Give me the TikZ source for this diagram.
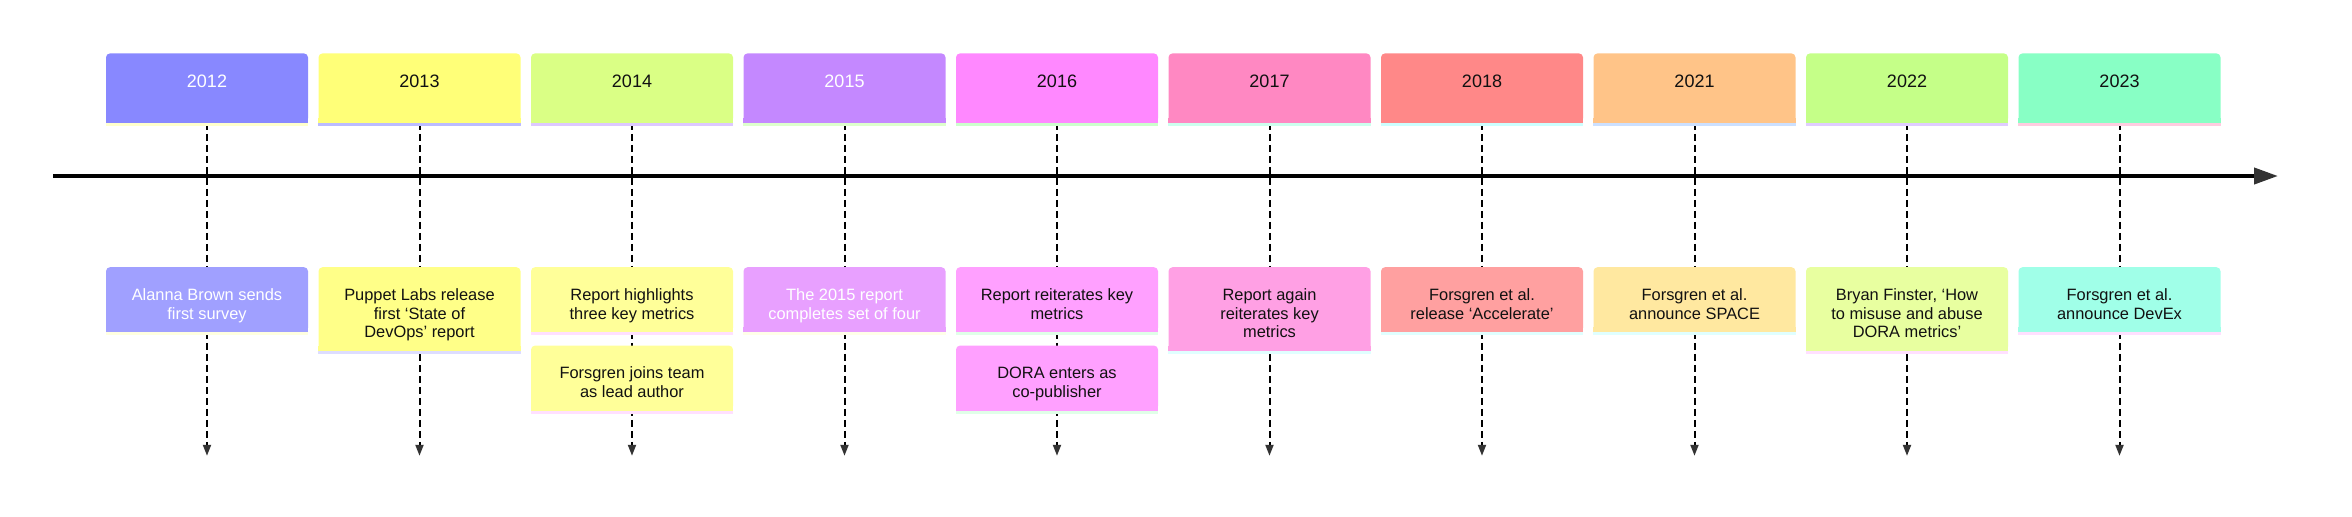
\documentclass[tikz,border=0pt]{standalone}
\usepackage{fontspec}
\setmainfont{Liberation Sans}
\usetikzlibrary{positioning,arrows.meta}

\definecolor{ink}{HTML}{111111}
\definecolor{tipgray}{HTML}{333333}
% year colours, event colours, strip colours
\definecolor{c12}{HTML}{8888FF}\definecolor{e12}{HTML}{A0A0FF}\definecolor{s12}{HTML}{FFFFCC}\definecolor{t12}{HTML}{FFFFE0}
\definecolor{c13}{HTML}{FFFF78}\definecolor{e13}{HTML}{FFFF88}\definecolor{s13}{HTML}{BBBBFF}\definecolor{t13}{HTML}{DDDDFF}
\definecolor{c14}{HTML}{DAFF85}\definecolor{e14}{HTML}{FFFF99}\definecolor{s14}{HTML}{DDC8FF}\definecolor{t14}{HTML}{FFE0FF}
\definecolor{c15}{HTML}{C488FF}\definecolor{e15}{HTML}{E8A0FF}\definecolor{s15}{HTML}{DDFFCC}\definecolor{t15}{HTML}{FFFFE8}
\definecolor{c16}{HTML}{FF88FF}\definecolor{e16}{HTML}{FFA0FF}\definecolor{s16}{HTML}{CCFFCC}\definecolor{t16}{HTML}{E0FFE8}
\definecolor{c17}{HTML}{FF88C2}\definecolor{e17}{HTML}{FFA0E4}\definecolor{s17}{HTML}{CCFFEE}\definecolor{t17}{HTML}{E0FFFF}
\definecolor{c18}{HTML}{FF8888}\definecolor{e18}{HTML}{FFA0A0}\definecolor{s18}{HTML}{CCFFFF}\definecolor{t18}{HTML}{E0FFFF}
\definecolor{c21}{HTML}{FFC488}\definecolor{e21}{HTML}{FFE8A0}\definecolor{s21}{HTML}{CCE0FF}\definecolor{t21}{HTML}{E0FFFF}
\definecolor{c22}{HTML}{C5FF88}\definecolor{e22}{HTML}{E8FFA0}\definecolor{s22}{HTML}{E0CCFF}\definecolor{t22}{HTML}{FFE0FF}
\definecolor{c23}{HTML}{88FFC5}\definecolor{e23}{HTML}{A0FFE8}\definecolor{s23}{HTML}{FFCCE0}\definecolor{t23}{HTML}{FFE0FF}

% struts for the first and last line of an event box
\newcommand{\tp}{\rule{0pt}{12.5pt}}
\newcommand{\bt}{\rule[-2.4pt]{0pt}{2.4pt}}

\tikzstyle{year}=[rectangle,
                  rounded corners=2pt,
                  minimum width=101pt,
                  inner ysep=0pt,
                  text height=17.15pt,
                  text depth=17.35pt,
                  text=ink,
                  font=\fontsize{9}{11}\selectfont]
\tikzstyle{event}=[rectangle,
                   rounded corners=2pt,
                   minimum width=101pt,
                   inner xsep=3pt,
                   inner ysep=4pt,
                   align=center,
                   text=ink,
                   font=\fontsize{8.2}{9.4}\selectfont]
\tikzstyle{drop}=[line width=1pt,dash pattern=on 3.5pt off 2pt,-{Triangle[length=5.5pt,width=4pt,color=tipgray]}]
\tikzstyle{axis}=[line width=2pt,-{Triangle[length=12pt,width=8pt,color=tipgray]}]

\begin{document}
\begin{tikzpicture}[x=0.5pt,y=-0.5pt,node distance=106.25pt]
    \useasboundingbox (0,0) rectangle (2352,516);
    % years
    \node[year, fill=c12, text=white, anchor=north] (y2012) at (207,53) {2012};
    \node[year, fill=c13, right of=y2012] (y2013) {2013};
    \node[year, fill=c14, right of=y2013] (y2014) {2014};
    \node[year, fill=c15, text=white, right of=y2014] (y2015) {2015};
    \node[year, fill=c16, right of=y2015] (y2016) {2016};
    \node[year, fill=c17, right of=y2016] (y2017) {2017};
    \node[year, fill=c18, right of=y2017] (y2018) {2018};
    \node[year, fill=c21, right of=y2018] (y2021) {2021};
    \node[year, fill=c22, right of=y2021] (y2022) {2022};
    \node[year, fill=c23, right of=y2022] (y2023) {2023};

    \foreach \y in {2012,2013,2014,2015,2016,2017,2018,2021,2022,2023} {
        \coordinate[below=166.5pt of y\y.south] (d\y);
        \draw[drop] (y\y.south) -- (d\y);
    }

    \coordinate (t-start) at (53,176);
    \coordinate (t-end) at (2278,176);
    \draw[axis] (t-start) -- (t-end);

    % events
    \node[event, fill=e12, text=white, below=72pt of y2012] (ev2012) {\tp Alanna Brown sends\\first survey\bt};
    \node[event, fill=e13, below=72pt of y2013] (ev2013) {\tp Puppet Labs release\\first ‘State of\\DevOps’ report\bt};
    \node[event, fill=e14, below=72pt of y2014] (ev2014) {\tp Report highlights\\three key metrics\bt};
    \node[event, fill=e14, below=6.5pt of ev2014] (ev2014b) {\tp Forsgren joins team\\as lead author\bt};
    \node[event, fill=e15, text=white, below=72pt of y2015] (ev2015) {\tp The 2015 report\\completes set of four\bt};
    \node[event, fill=e16, below=72pt of y2016] (ev2016) {\tp Report reiterates key\\metrics\bt};
    \node[event, fill=e16, below=6.5pt of ev2016] (ev2016b) {\tp DORA enters as\\co-publisher\bt};
    \node[event, fill=e17, below=72pt of y2017] (ev2017) {\tp Report again\\reiterates key\\metrics\bt};
    \node[event, fill=e18, below=72pt of y2018] (ev2018) {\tp Forsgren et al.\\release ‘Accelerate’\bt};
    \node[event, fill=e21, below=72pt of y2021] (ev2021) {\tp Forsgren et al.\\announce SPACE\bt};
    \node[event, fill=e22, below=72pt of y2022] (ev2022) {\tp Bryan Finster, ‘How\\to misuse and abuse\\DORA metrics’\bt};
    \node[event, fill=e23, below=72pt of y2023] (ev2023) {\tp Forsgren et al.\\announce DevEx\bt};

    % square bottoms and coloured strips
    \foreach \n/\c/\s in {y2012/c12/s12, y2013/c13/s13, y2014/c14/s14, y2015/c15/s15, y2016/c16/s16,
                          y2017/c17/s17, y2018/c18/s18, y2021/c21/s21, y2022/c22/s22, y2023/c23/s23,
                          ev2012/e12/t12, ev2013/e13/t13, ev2014/e14/t14, ev2014b/e14/t14, ev2015/e15/t15,
                          ev2016/e16/t16, ev2016b/e16/t16, ev2017/e17/t17, ev2018/e18/t18, ev2021/e21/t21,
                          ev2022/e22/t22, ev2023/e23/t23} {
        \fill[\c] ([yshift=2.5pt]\n.south west) rectangle (\n.south east);
        \fill[\s] (\n.south west) rectangle ([yshift=-1.5pt]\n.south east);
    }
\end{tikzpicture}
\end{document}
